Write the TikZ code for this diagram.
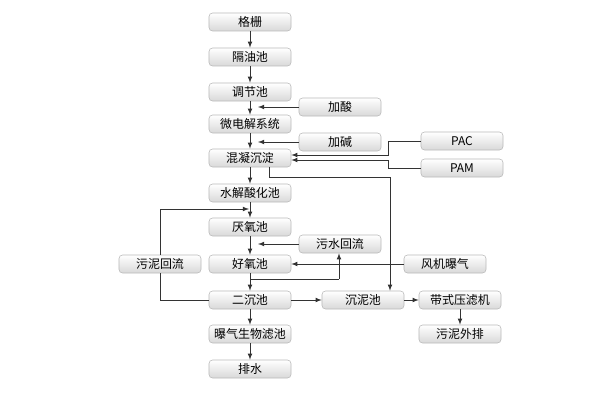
\documentclass[tikz,border=0pt]{standalone}
\usepackage{fontspec}
\newfontfamily\cjk{Noto Sans CJK SC}
\usetikzlibrary{positioning}
\tikzset{
  pbox/.style={rounded corners=2.5pt, draw=gray!55, top color=white, bottom color=gray!30,
    minimum width=2.05cm, minimum height=0.45cm, inner sep=0pt, font=\cjk\fontsize{8.5}{9}\selectfont},
  flow/.style={-latex, line width=0.5pt, black!80},
  line/.style={line width=0.5pt, black!80}
}
\begin{document}
\begin{tikzpicture}[x=0.025cm, y=-0.025cm]
\useasboundingbox (0,0) rectangle (600,400);

% main column
\node[pbox] (ggs) at (250,22) {格栅};
\node[pbox] (gyc) at (250,57) {隔油池};
\node[pbox] (tjc) at (250,92) {调节池};
\node[pbox] (wdj) at (250,124) {微电解系统};
\node[pbox] (hnc) at (250,158) {混凝沉淀};
\node[pbox] (sjs) at (250,193) {水解酸化池};
\node[pbox] (yyc) at (250,227) {厌氧池};
\node[pbox] (hyc) at (250,264) {好氧池};
\node[pbox] (ecc) at (250,300) {二沉池};
\node[pbox] (bgl) at (250,334) {曝气生物滤池};
\node[pbox] (psh) at (250,369) {排水};

% side boxes
\node[pbox] (jsu) at (340,107) {加酸};
\node[pbox] (jji) at (340,142) {加碱};
\node[pbox] (pac) at (462,141) {PAC};
\node[pbox] (pam) at (462,168) {PAM};
\node[pbox] (wsh) at (340,244) {污水回流};
\node[pbox] (fjb) at (445,264) {风机曝气};
\node[pbox] (wnh) at (160,264) {污泥回流};
\node[pbox] (cnc) at (363,300) {沉泥池};
\node[pbox] (dsy) at (460,300) {带式压滤机};
\node[pbox] (wnw) at (460,334) {污泥外排};

% column arrows
\foreach \a/\b in {ggs/gyc,gyc/tjc,tjc/wdj,wdj/hnc,hnc/sjs,sjs/yyc,yyc/hyc,hyc/ecc,ecc/bgl,bgl/psh}
  \draw[flow] (\a) -- (\b);

% dosing
\draw[flow] (jsu.west) -- (258,107);
\draw[flow] (jji.west) -- (258,142);
\draw[flow] (pac.west) -- (388,141) -- (388,155) -- (hnc.east |- 0,155);
\draw[flow] (pam.west) -- (388,168) -- (388,160) -- (hnc.east |- 0,160);

% sludge
\coordinate (hb) at (269,167);
\draw[flow] (hb) -- (269,177) -- (390,177) -- (cnc.north -| 390,0);
\draw[line] (ecc.west) -- (160,300) -- (wnh.south);
\draw[flow] (wnh.north) -- (160,209) -- (249,209);
\coordinate (rb) at (250,279);
\draw[line] (rb) -- (339,279);
\draw[flow] (339,279) -- (wsh.south -| 339,0);
\draw[flow] (wsh.west) -- (258,244);
\draw[flow] (fjb.west) -- (hyc.east);
\draw[flow] (ecc.east) -- (cnc.west);
\draw[flow] (cnc.east) -- (dsy.west);
\draw[flow] (dsy) -- (wnw);
\end{tikzpicture}
\end{document}
